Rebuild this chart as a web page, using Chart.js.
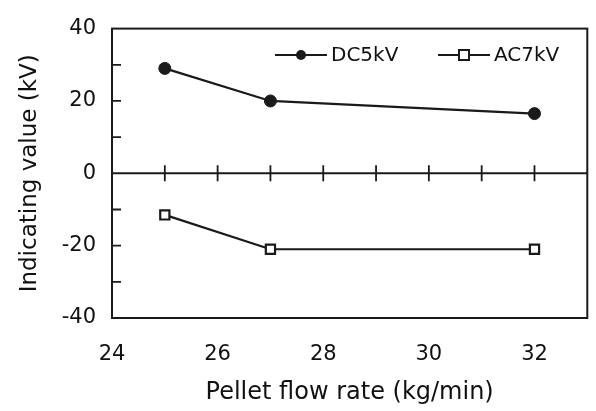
<!DOCTYPE html>
<html>
<head>
<meta charset="utf-8">
<script src="https://cdn.jsdelivr.net/npm/chart.js@4/dist/chart.umd.min.js"></script>
<style>
  html, body { margin: 0; padding: 0; background: #fff; }
  #wrap { width: 596px; height: 411px; }
</style>
</head>
<body>
<div id="wrap"><canvas id="lineChart" width="596" height="411"></canvas></div>
<script>
const flowRate = [25, 27, 32];
const dc5kV = [29, 20, 16.5];
const ac7kV = [-11.5, -21, -21];
const seriesNames = ['DC5kV', 'AC7kV'];
const xLabels = [24, 26, 28, 30, 32];
const yLabels = [-40, -20, 0, 20, 40];

const ink = '#1a1a1a';
const textInk = '#111';
const font = 'DejaVu Sans';

function toPoints(xs, ys) {
    return xs.map((x, i) => ({ x: x, y: ys[i] }));
}

// box, zero line, inward ticks and the in-plot legend
const framePlugin = {
    id: 'frame',
    afterDatasetsDraw(chart) {
        const ctx = chart.ctx;
        const a = chart.chartArea;
        const xs = chart.scales.x;
        const ys = chart.scales.y;
        ctx.save();
        ctx.strokeStyle = ink;
        ctx.lineWidth = 2;
        ctx.strokeRect(a.left, a.top, a.right - a.left, a.bottom - a.top);

        const y0 = ys.getPixelForValue(0);
        ctx.beginPath();
        ctx.moveTo(a.left, y0);
        ctx.lineTo(a.right, y0);
        ctx.stroke();

        ctx.lineWidth = 1.8;
        ctx.beginPath();
        for (let v = xs.min + 1; v < xs.max; v++) {
            const px = xs.getPixelForValue(v);
            ctx.moveTo(px, y0 - 8);
            ctx.lineTo(px, y0 + 8);
        }
        for (let v = ys.min + 10; v < ys.max; v += 10) {
            if (v === 0) continue;
            const py = ys.getPixelForValue(v);
            ctx.moveTo(a.left, py);
            ctx.lineTo(a.left + 9, py);
        }
        ctx.stroke();

        // legend
        const ly = 55;
        const items = [
            { x: 275, style: 'circle' },
            { x: 438, style: 'rect' }
        ];
        ctx.font = '20px "' + font + '"';
        ctx.textBaseline = 'middle';
        ctx.fillStyle = ink;
        items.forEach((it, i) => {
            ctx.lineWidth = 2;
            ctx.beginPath();
            ctx.moveTo(it.x, ly);
            ctx.lineTo(it.x + 52, ly);
            ctx.stroke();
            const mx = it.x + 26;
            if (it.style === 'circle') {
                ctx.beginPath();
                ctx.arc(mx, ly, 5, 0, Math.PI * 2);
                ctx.fill();
            } else {
                ctx.fillStyle = '#fff';
                ctx.fillRect(mx - 5, ly - 5, 10, 10);
                ctx.strokeRect(mx - 5, ly - 5, 10, 10);
                ctx.fillStyle = ink;
            }
            ctx.fillStyle = textInk;
            ctx.fillText(seriesNames[i], it.x + 56, ly + 1);
            ctx.fillStyle = ink;
        });
        ctx.restore();
    }
};

const ctx = document.getElementById('lineChart').getContext('2d');
const lineChart = new Chart(ctx, {
    type: 'line',
    data: {
        datasets: [{
            label: seriesNames[0],
            data: toPoints(flowRate, dc5kV),
            borderColor: ink,
            backgroundColor: ink,
            borderWidth: 2.2,
            pointStyle: 'circle',
            pointRadius: 6,
            pointBorderWidth: 1,
            tension: 0
        },
        {
            label: seriesNames[1],
            data: toPoints(flowRate, ac7kV),
            borderColor: ink,
            backgroundColor: '#fff',
            borderWidth: 2.2,
            pointStyle: 'rect',
            pointRadius: 6.5,
            pointBorderWidth: 2.2,
            tension: 0
        }]
    },
    options: {
        responsive: false,
        animation: false,
        layout: { padding: { top: 20, right: 7, left: 0, bottom: 0 } },
        plugins: {
            legend: { display: false },
            tooltip: { enabled: false }
        },
        scales: {
            x: {
                type: 'linear',
                min: 24,
                max: 33,
                afterFit(scale) { scale.height = 93; },
                afterBuildTicks(scale) {
                    scale.ticks = xLabels.map(v => ({ value: v }));
                },
                grid: { display: false, drawTicks: false },
                border: { display: false },
                ticks: {
                    color: textInk,
                    font: { family: font, size: 21 },
                    padding: 24,
                    maxRotation: 0,
                    autoSkip: false
                },
                title: {
                    display: true,
                    text: 'Pellet flow rate (kg/min)',
                    color: textInk,
                    font: { family: font, size: 24 },
                    padding: { top: 0, bottom: 4 }
                }
            },
            y: {
                min: -40,
                max: 40,
                afterFit(scale) { scale.width = 112; },
                afterBuildTicks(scale) {
                    scale.ticks = yLabels.map(v => ({ value: v }));
                },
                grid: { display: false, drawTicks: false },
                border: { display: false },
                ticks: {
                    color: textInk,
                    font: { family: font, size: 21 },
                    padding: 16
                },
                title: {
                    display: true,
                    text: 'Indicating value (kV)',
                    color: textInk,
                    font: { family: font, size: 23 },
                    padding: { top: 16, bottom: 0 }
                }
            }
        }
    },
    plugins: [framePlugin]
});
</script>
</body>
</html>
